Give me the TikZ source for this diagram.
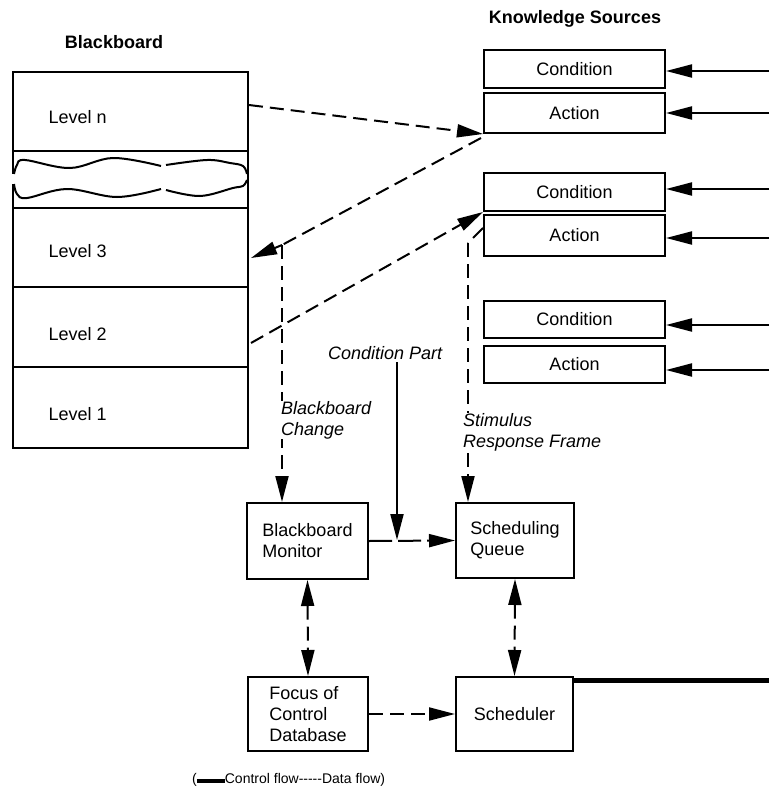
\documentclass[tikz,border=0pt]{standalone}
\usepackage{fontspec}
\setmainfont{Liberation Sans}
\newfontfamily\legendfont{Liberation Sans}
\usetikzlibrary{arrows.meta,calc}
\begin{document}
\begin{tikzpicture}[x=1pt,y=-1pt,
  every node/.style={font=\fontsize{18}{21}\selectfont},
  box/.style={draw, line width=2pt, inner sep=0pt, align=left},
  ln/.style={line width=2pt},
  dsh/.style={line width=2pt, dash pattern=on 14pt off 7pt},
  tip/.style={-{Triangle[length=26pt,width=13pt]}},
  tips/.style={{Triangle[length=26pt,width=13pt]}-{Triangle[length=26pt,width=13pt]}},
  lab/.style={font=\itshape\fontsize{18}{21}\selectfont, align=left, inner sep=0pt, fill=white},
  ttl/.style={font=\bfseries\fontsize{18}{21}\selectfont},
  ]
\useasboundingbox (0,0) rectangle (769,789);

% titles
\node[ttl, anchor=base] (tbb) at (114,49) {Blackboard};
\node[ttl, anchor=base] (tks) at (575,24) {Knowledge Sources};

% blackboard levels
\node[box, minimum width=235pt, minimum height=79pt] (lnb) at (130.5,111.5) {};
\node[box, minimum width=235pt, minimum height=79pt] (l3) at (130.5,247.5) {};
\node[box, minimum width=235pt, minimum height=80pt] (l2) at (130.5,327) {};
\node[box, minimum width=235pt, minimum height=81pt] (l1) at (130.5,407.5) {};
\node[anchor=base west] (tln) at (45,124) {Level n};
\node[anchor=base west] (tl3) at (45,257) {Level 3};
\node[anchor=base west] (tl2) at (45,340) {Level 2};
\node[anchor=base west] (tl1) at (45,420) {Level 1};

% wavy break
\draw[ln] (13,151) -- (13,174);
\draw[ln] (13,184) -- (13,208);
\draw[ln] (248,151) -- (248,208);
\draw[ln] plot[smooth, tension=0.6] coordinates {(14,174) (17,165) (25,160) (70,168) (113,158) (161,166)};
\draw[ln] plot[smooth, tension=0.6] coordinates {(166,165) (207,160) (230,163) (243,166) (247,174)};
\draw[ln] plot[smooth, tension=0.6] coordinates {(14,184) (17,194) (27,198) (67,189) (117,197) (161,189)};
\draw[ln] plot[smooth, tension=0.6] coordinates {(166,190) (200,196) (233,188) (243,186) (247,180)};

% knowledge sources
\node[box, minimum width=181pt, minimum height=38pt, align=center] (c1) at (574.5,69) {Condition};
\node[box, minimum width=181pt, minimum height=40pt, align=center] (a1) at (574.5,113) {Action};
\node[box, minimum width=181pt, minimum height=38pt, align=center] (c2) at (574.5,192) {Condition};
\node[box, minimum width=181pt, minimum height=41pt, align=center] (a2) at (574.5,235.5) {Action};
\node[box, minimum width=181pt, minimum height=37pt, align=center] (c3) at (574.5,319.5) {Condition};
\node[box, minimum width=181pt, minimum height=37pt, align=center] (a3) at (574.5,364.5) {Action};

\coordinate (r1) at (769,71);
\coordinate (r2) at (769,113);
\coordinate (r3) at (769,189);
\coordinate (r4) at (769,238);
\coordinate (r5) at (769,325);
\coordinate (r6) at (769,370);
\draw[ln,tip] (r1) -- (r1 -| c1.east);
\draw[ln,tip] (r2) -- (r2 -| a1.east);
\draw[ln,tip] (r3) -- (r3 -| c2.east);
\draw[ln,tip] (r4) -- (r4 -| a2.east);
\draw[ln,tip] (r5) -- (r5 -| c3.east);
\draw[ln,tip] (r6) -- (r6 -| a3.east);

% lower boxes
\node[box, minimum width=121pt, minimum height=76pt] (mon) at (307.5,541) {Blackboard\\Monitor};
\node[box, minimum width=118pt, minimum height=75pt] (que) at (515,540.5) {Scheduling\\Queue};
\node[box, minimum width=120pt, minimum height=74pt] (foc) at (308,714) {Focus of\\Control\\Database};
\node[box, minimum width=117pt, minimum height=74pt] (sch) at (514.5,714) {Scheduler};

% data flow connectors
\draw[dsh,tip] ($(lnb.east)+(0,-6.5)$) -- (a1.south west);
\coordinate (bc) at (282,245);
\draw[dsh] ($(a1.south west)+(-2,4)$) -- (bc);
\draw[dsh,tip] (bc) -- ($(l3.east)+(2,10.5)$);
\draw[dsh,tip] (bc) -- (bc |- mon.north);
\draw[dsh,tip] ($(l2.east)+(2,16)$) -- (c2.south west);
\coordinate (sc) at (468,243);
\draw[dsh] ($(a2.west)+(0,-7.5)$) -- (sc);
\draw[dsh,tip] (sc) -- (sc |- que.north);
\draw[line width=2pt, dash pattern=on 23pt off 6pt, tip] (mon.east) -- (que.west);
\draw[dsh,tips] (mon.south) -- (foc.north);
\draw[dsh,tips] (que.south) -- (sch.north);
\draw[dsh,tip] (foc.east) -- (sch.west);

% control flow
\node[lab, anchor=base west, fill=none] (cp) at (328,359) {Condition Part};
\coordinate (cpj) at (397,540);
\draw[ln,tip] ($(cpj |- cp.south)+(0,3)$) -- (cpj);
\coordinate (te) at (769,680.5);
\draw[line width=5pt] ($(sch.north east |- te)+(-1,0)$) -- (te);

% labels
\node[lab, anchor=north west] (bch) at (281,401) {Blackboard\\Change};
\node[lab, anchor=north west] (srf) at (463,413) {Stimulus\\Response Frame};

% legend
\node[anchor=base west, inner sep=0pt, font=\legendfont\fontsize{14}{16}\selectfont] (leg) at (192,783) {(\rule{28pt}{4.5pt}Control flow-----Data flow)};
\end{tikzpicture}
\end{document}
